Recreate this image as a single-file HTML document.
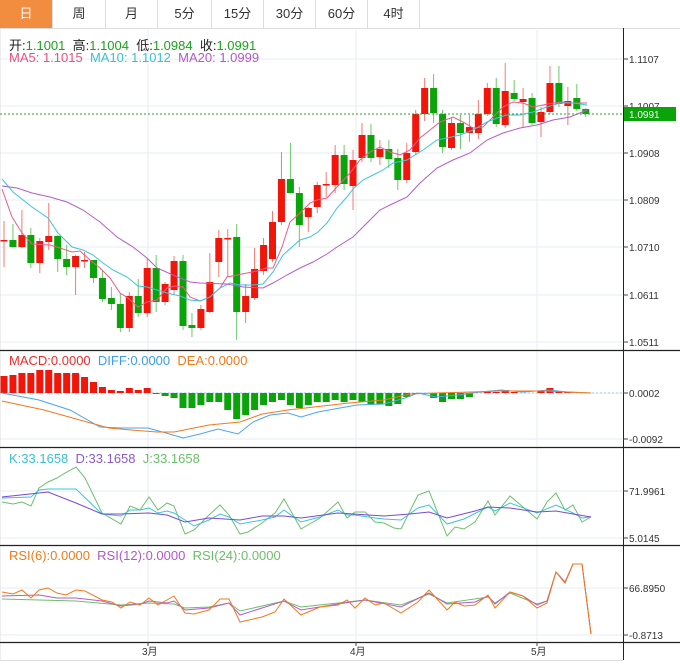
<!DOCTYPE html>
<html><head><meta charset="utf-8"><style>
body{margin:0;background:#fff;font-family:"Liberation Sans","Noto Sans CJK SC",sans-serif;}
#w{position:relative;width:680px;height:671px;overflow:hidden;background:#fff}
.tabs{position:absolute;left:0;top:0;height:28px;width:680px;border-bottom:1px solid #ddd;background:#fff}
.tab{position:absolute;top:0;height:28px;line-height:28px;text-align:center;font-size:13px;color:#333;border-right:1px solid #ddd;box-sizing:border-box}
.lbl{position:absolute;font-size:12px;white-space:nowrap}
.big{font-size:13px}
svg{position:absolute;left:0;top:0}
</style></head><body><div id="w">
<div class="tabs">
<div class="tab" style="left:0;width:53px;background:#f28c3f;color:#fff">日</div>
<div class="tab" style="left:53px;width:53px">周</div>
<div class="tab" style="left:106px;width:52px">月</div>
<div class="tab" style="left:158px;width:54px">5分</div>
<div class="tab" style="left:212px;width:52px">15分</div>
<div class="tab" style="left:264px;width:52px">30分</div>
<div class="tab" style="left:316px;width:52px">60分</div>
<div class="tab" style="left:368px;width:52px">4时</div>
</div>
<svg id="s" width="680" height="671" xmlns="http://www.w3.org/2000/svg"></svg>
<div class="lbl big" style="left:9px;top:35px;color:#222">开:<span style="color:#1aa31a">1.1001</span>&nbsp;&nbsp;高:<span style="color:#1aa31a">1.1004</span>&nbsp;&nbsp;低:<span style="color:#1aa31a">1.0984</span>&nbsp;&nbsp;收:<span style="color:#1aa31a">1.0991</span></div>
<div class="lbl big" style="left:9px;top:50px"><span style="color:#ec4f7c">MA5: 1.1015</span>&nbsp;&nbsp;<span style="color:#38c0d8">MA10: 1.1012</span>&nbsp;&nbsp;<span style="color:#b258c8">MA20: 1.0999</span></div>
<div class="lbl big" style="left:9px;top:353px"><span style="color:#f02a2a">MACD:0.0000</span>&nbsp;&nbsp;<span style="color:#3d9de8">DIFF:0.0000</span>&nbsp;&nbsp;<span style="color:#f07a1a">DEA:0.0000</span></div>
<div class="lbl big" style="left:9px;top:451px"><span style="color:#38c0d8">K:33.1658</span>&nbsp;&nbsp;<span style="color:#8a5ad0">D:33.1658</span>&nbsp;&nbsp;<span style="color:#6abf6a">J:33.1658</span></div>
<div class="lbl big" style="left:9px;top:548px"><span style="color:#f07a1a">RSI(6):0.0000</span>&nbsp;&nbsp;<span style="color:#b258c8">RSI(12):0.0000</span>&nbsp;&nbsp;<span style="color:#6abf6a">RSI(24):0.0000</span></div>
</div>
<script>
var s=document.getElementById('s'),h='';
function L(x1,y1,x2,y2,c,w,d){h+='<line x1="'+x1+'" y1="'+y1+'" x2="'+x2+'" y2="'+y2+'" stroke="'+c+'" stroke-width="'+(w||1)+'"'+(d?' stroke-dasharray="'+d+'"':'')+'/>';}
function P(pts,c){h+='<polyline fill="none" stroke="'+c+'" stroke-width="1" points="'+pts.map(function(p){return p[0]+','+p[1]}).join(' ')+'"/>';}
function T(x,y,t,sz){h+='<text x="'+x+'" y="'+y+'" font-size="'+(sz||10)+'" fill="#333" font-family="Liberation Sans,Noto Sans CJK SC,sans-serif">'+t+'</text>';}
var G='#e6ecf0';
[59,106,153,200,247,295,342].forEach(function(y){L(0,y,623,y,G);});
[393,439,491,538,588,635].forEach(function(y){L(0,y,623,y,G);});
[148,356,537].forEach(function(x){L(x,30,x,642,G);});
L(0,28,0,660,'#ddd');
[350.5,447.5,545.5,642.5].forEach(function(y){L(0,y,680,y,'#222',1.2);});
L(623.5,28,623.5,660,'#222',1);
L(0,660.5,623,660.5,'#ddd');
var pl=[[59,'1.1107'],[106,'1.1007'],[153,'1.0908'],[200,'1.0809'],[247,'1.0710'],[295,'1.0611'],[342,'1.0511']];
pl.forEach(function(p){L(623,p[0],628,p[0],'#444');T(629,p[0]+4,p[1]);});
[[393,'0.0002'],[439,'-0.0092'],[491,'71.9961'],[538,'5.0145'],[588,'66.8950'],[635,'-0.8713']].forEach(function(p){L(623,p[0],628,p[0],'#444');T(629,p[0]+4,p[1]);});
[[148,'3月'],[356,'4月'],[537,'5月']].forEach(function(p){L(p[0],642,p[0],646,'#444');T(p[0]-6,655,p[1],10);});
var c=[
'r240,240,221,267','g240,247,224,248','r235,247,210,248','g235,263,228,268','r241,263,238,273','r236,242,203,250','g236,259,235,272','g259,267,245,275','r256,267,255,295','r260,260,252,268',
'g260,278,260,283','g278,299,270,302','g298,304,287,310','g304,328,293,332','r296,328,292,332','g296,313,279,317','r268,313,258,317','g268,302,255,312','r284,302,282,305','r261,290,256,295',
'g261,326,255,330','g325,328,313,337','r309,328,305,330','r282,312,253,313','r238,262,230,277','r238,239,229,277','g237,312,224,340','r296,312,284,323','r269,298,248,300','r245,271,238,275',
'r222,259,211,262','r179,222,152,225','g179,193,143,193','g193,225,187,247','r208,217,207,232','r185,207,182,213','r184,185,172,197','r155,185,145,193','g155,184,145,190','r160,186,150,210',
'r135,158,123,162','g135,158,124,162','r149,157,140,165','g149,159,140,168','g158,180,149,190','r153,180,143,183','r114,152,110,155','r88,114,78,121','g88,113,74,123','g114,147,110,153',
'r123,148,118,150','g123,133,115,149','r127,133,115,142','r114,133,100,139','r88,114,83,116','g88,124,78,127','r91,125,63,128','g93,99,80,101','r99,102,88,127','g98,123,93,125',
'r112,122,107,137','r83,112,66,114','g83,104,66,107','r101,106,87,125','g98,109,84,111','g109,114,108,117'];
function X(i){return 4+i*8.95;}
c.forEach(function(d,i){var col=d[0]=='r'?'#f2160a':'#0aa30a',wc=d[0]=='r'?'#f47a72':'#6cc86c';var v=d.slice(1).split(',').map(Number);var x=X(i);
L(x,v[2],x,v[3],wc);var bh=Math.max(v[1]-v[0],1.5);h+='<rect x="'+(x-3.5)+'" y="'+v[0]+'" width="7" height="'+bh+'" fill="'+col+'"/>';});
P([[2,189],[12,217],[22,233],[32,244],[50,245],[60,248],[72,252],[80,251],[90,260],[100,268],[110,278],[120,293],[128,298],[138,307],[147,302],[157,300],[167,288],[175,286],[183,287],[190,297],[200,301],[210,297],[220,288],[227,277],[237,275],[247,273],[257,271],[267,268],[273,268],[282,247],[290,222],[300,213],[310,203],[317,200],[327,198],[337,187],[350,173],[360,160],[370,152],[380,147],[390,152],[400,155],[410,150],[420,138],[430,130],[440,122],[453,117],[463,122],[473,128],[483,127],[493,117],[503,107],[513,102],[523,103],[533,107],[543,105],[553,103],[563,102],[573,103],[587,103]],'#ee5a85');
P([[2,179],[13,192],[32,207],[48,218],[58,233],[72,247],[83,250],[93,255],[103,263],[113,270],[127,277],[138,286],[147,287],[157,290],[167,293],[180,296],[190,300],[200,301],[210,297],[220,288],[230,283],[240,285],[253,285],[263,284],[273,272],[283,255],[292,247],[300,240],[310,237],[318,232],[327,223],[337,208],[346,198],[354,188],[363,180],[373,175],[383,170],[393,163],[407,160],[423,150],[437,140],[447,138],[460,135],[473,130],[487,122],[497,118],[507,115],[520,115],[533,112],[547,107],[560,103],[573,103],[587,105]],'#3cc4dc');
P([[2,186],[17,188],[32,193],[50,197],[67,202],[83,210],[100,222],[117,237],[133,247],[147,258],[157,268],[173,275],[190,282],[200,283],[227,284],[243,287],[263,288],[273,283],[287,275],[300,268],[313,262],[327,254],[337,247],[353,237],[367,223],[380,210],[390,205],[407,197],[420,183],[437,168],[453,160],[470,153],[487,140],[503,133],[520,128],[537,125],[553,120],[570,117],[587,110]],'#b45cc9');
L(0,114,623,114,'#2aa52a',1,'2,2');
h+='<rect x="624" y="107" width="52" height="14" fill="#0aa30a"/>';
h+='<text x="629" y="118" font-size="10" fill="#fff" font-family="Liberation Sans,sans-serif">1.0991</text>';
L(0,393,623,393,'#9cc8e8',1,'2,2');
var m=[376,375,373,373,370,370,373,373,373,377,382,387,390,391,388,390,388,394,396,398,408,408,405,402,402,410,419,415,410,405,402,400,405,408,405,402,402,400,402,400,402,404,404,406,404,397,394,393,398,402,399,399,397,393,391,392,390,392,393,393,391,388,391,392,393,393];
m.forEach(function(v,i){var x=X(i);if(Math.abs(v-393)<0.6)return;var up=v<393;h+='<rect x="'+(x-3.5)+'" y="'+Math.min(v,393)+'" width="7" height="'+Math.abs(v-393)+'" fill="'+(up?'#f2160a':'#0aa30a')+'"/>';});
P([[2,393],[39,400],[70,410],[100,427],[122,428],[148,428],[166,433],[183,438],[200,434],[218,429],[238,434],[253,422],[270,415],[288,413],[301,417],[318,412],[340,408],[357,405],[384,404],[405,398],[418,393],[436,397],[458,395],[480,392],[501,390],[523,392],[549,390],[567,392],[591,393]],'#4aa6ee');
P([[2,401],[44,410],[87,422],[109,428],[131,430],[157,432],[174,432],[209,425],[240,422],[262,414],[288,410],[314,407],[349,403],[384,400],[410,394],[436,393],[471,392],[501,391],[545,391],[591,393]],'#f27a1a');
P([[2,502],[13,504],[22,502],[31,506],[39,488],[48,482],[57,478],[65,473],[76,467],[85,478],[102,513],[121,524],[130,506],[140,510],[149,497],[158,510],[167,503],[174,506],[185,534],[194,530],[209,515],[220,505],[229,515],[240,534],[248,532],[262,523],[275,513],[284,499],[301,529],[320,518],[338,502],[347,518],[355,512],[365,512],[375,522],[384,523],[394,528],[401,529],[418,495],[429,491],[447,536],[455,527],[464,529],[475,522],[488,501],[495,515],[510,496],[523,507],[537,519],[547,502],[556,493],[565,510],[573,505],[582,522],[591,517]],'#6cc06c');
P([[2,498],[31,497],[39,490],[48,489],[76,489],[102,514],[121,516],[130,510],[140,510],[149,508],[158,513],[167,511],[174,513],[185,520],[194,526],[209,520],[220,514],[229,517],[240,524],[262,520],[275,517],[284,510],[301,522],[320,517],[338,510],[347,515],[355,515],[375,518],[384,519],[401,520],[418,508],[429,505],[447,524],[464,519],[488,507],[495,511],[510,503],[537,513],[556,505],[573,513],[582,518],[591,517]],'#3cc4dc');
P([[2,497],[39,493],[48,492],[76,503],[102,514],[121,514],[149,513],[167,515],[185,522],[209,518],[240,520],[262,516],[284,516],[301,518],[338,513],[384,516],[410,514],[429,512],[447,518],[475,511],[488,507],[510,508],[537,512],[556,511],[573,514],[591,517]],'#7a4ad0');
P([[2,599],[39,600],[76,601],[121,605],[149,603],[174,604],[185,608],[209,607],[229,603],[240,611],[284,601],[301,607],[338,603],[365,600],[401,605],[429,594],[447,603],[488,597],[495,603],[510,593],[537,604],[547,601],[556,572],[565,583],[573,564],[582,564],[591,634]],'#6cc06c');
P([[2,596],[39,595],[57,598],[76,598],[102,601],[121,606],[140,604],[149,601],[167,603],[174,601],[185,610],[209,608],[229,603],[240,615],[284,601],[301,610],[338,604],[365,600],[401,607],[429,593],[447,604],[475,602],[488,596],[495,604],[510,592],[523,596],[537,605],[547,601],[556,572],[565,582],[573,564],[582,564],[591,634]],'#b45cc9');
P([[2,592],[13,594],[22,590],[31,598],[39,590],[48,588],[57,593],[66,595],[76,590],[85,591],[102,600],[112,602],[121,608],[130,602],[140,605],[149,598],[158,605],[167,600],[174,596],[185,613],[194,614],[209,610],[220,599],[229,599],[240,622],[262,617],[275,612],[284,599],[301,615],[320,607],[338,605],[347,600],[355,608],[365,598],[375,605],[384,603],[401,613],[418,602],[429,590],[447,610],[455,602],[464,606],[475,605],[488,595],[495,608],[510,592],[523,596],[537,608],[547,603],[556,572],[565,583],[573,564],[582,564],[591,634]],'#f27a1a');
s.innerHTML=h;
</script>
</body></html>
